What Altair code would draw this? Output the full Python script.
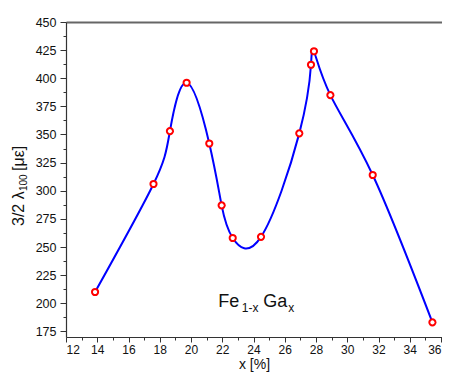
import altair as alt
import pandas as pd

x_vals = [13.86, 17.6, 18.65, 19.72, 21.17, 21.96, 22.67, 24.48, 26.93, 27.68, 27.87, 28.92, 31.63, 35.45]
y_vals = [210, 306, 353, 396, 342, 287, 258, 259, 351, 412, 424, 385, 314, 183]

x_major = list(range(12, 37, 2))
x_minor = list(range(13, 37, 2))
y_major = list(range(175, 451, 25))
y_minor = [v + 12.5 for v in range(175, 450, 25)]

df = pd.DataFrame({"x": x_vals, "y": y_vals})
top_df = pd.DataFrame({"x": [12], "y": [450]})

X_DOMAIN = [12, 36.064]
Y_DOMAIN = [170, 450]
FONT = "Liberation Sans"
AXC = "#333333"

xs = alt.Scale(domain=X_DOMAIN, nice=False, zero=False)
ys = alt.Scale(domain=Y_DOMAIN, nice=False, zero=False)

line = alt.Chart(df).mark_line(
    color="#0000ff", strokeWidth=2, interpolate="natural", clip=True
).encode(
    x=alt.X("x:Q", scale=xs, axis=alt.Axis(
        orient="bottom", values=x_major, tickSize=5, title="x [%]",
        labelFontSize=12, titleFontSize=14, labelFont=FONT, titleFont=FONT,
        titleFontWeight="normal", labelPadding=2, titlePadding=2,
        grid=False, domainColor=AXC, tickColor=AXC, labelColor="#111",
        titleColor="#111", domainWidth=1.2, tickWidth=1)),
    y=alt.Y("y:Q", scale=ys, axis=alt.Axis(
        orient="left", values=y_major, tickSize=6, title=None,
        labelFontSize=12.5, labelFont=FONT, labelPadding=4,
        grid=False, domainColor=AXC, tickColor=AXC, labelColor="#111",
        domainWidth=1.2, tickWidth=1)),
)

pts = alt.Chart(df).mark_point(
    shape="circle", size=38, filled=False, color="#ff0000", strokeWidth=2, fill="white", fillOpacity=1
).encode(
    x=alt.X("x:Q", scale=xs, axis=alt.Axis(
        orient="bottom", values=x_minor, tickSize=3, labels=False, title=None,
        domain=False, grid=False, tickColor=AXC, tickWidth=1)),
    y=alt.Y("y:Q", scale=ys, axis=alt.Axis(
        orient="left", values=y_minor, tickSize=3, labels=False, title=None,
        domain=False, grid=False, tickColor=AXC, tickWidth=1)),
)

top = alt.Chart(top_df).mark_point(opacity=0).encode(
    x=alt.X("x:Q", scale=xs, axis=alt.Axis(
        orient="top", ticks=False, labels=False, title=None, grid=False,
        domainColor="#666666", domainWidth=2)),
    y=alt.Y("y:Q", scale=ys, axis=None),
)

ann_df = pd.DataFrame({"x": [21.75], "y": [197]})
def txt(s, dx, dy, size):
    return alt.Chart(ann_df).mark_text(
        text=s, align="left", baseline="alphabetic", dx=dx, dy=dy,
        fontSize=size, font=FONT, color="#111"
    ).encode(x=alt.X("x:Q", scale=xs, axis=None), y=alt.Y("y:Q", scale=ys, axis=None))

ann = [txt("Fe", 0, 0, 18), txt("1-x", 23.5, 5, 12), txt("Ga", 45, 0, 18), txt("x", 70, 5, 12)]

# y-axis title with a real subscript, built from rotated text pieces
def ytitle(s, px, py, size):
    return alt.Chart(top_df).mark_text(
        text=s, align="left", baseline="alphabetic", angle=270,
        fontSize=size, font=FONT, color="#111"
    ).encode(x=alt.value(px), y=alt.value(py))

ytit = [ytitle("3/2 λ", -42.5, 204, 16), ytitle("100", -39, 169, 10), ytitle("[με]", -42.5, 149, 16)]

chart = alt.layer(line, pts, top, *ann, *ytit).resolve_axis(x="independent", y="independent").properties(
    width=376, height=315,
    autosize=alt.AutoSizeParams(type="none"),
    padding={"left": 58, "top": 14, "right": 0, "bottom": 40},
).configure_view(stroke=None).configure(background="white")

chart.save("out.html", embed_options={"renderer": "svg", "actions": False})
